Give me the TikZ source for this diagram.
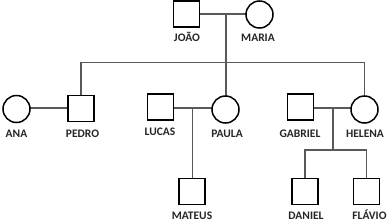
\documentclass[tikz,border=0pt]{standalone}
\usepackage{fontspec}
\setmainfont{Carlito}
\begin{document}
\begin{tikzpicture}[x=1pt,y=-1pt,
  male/.style={draw=black,line width=1.5pt,minimum size=26pt,inner sep=0pt,fill=white},
  female/.style={circle,draw=black,line width=1.5pt,minimum size=27pt,inner sep=0pt,fill=white},
  lbl/.style={font=\fontsize{11.5}{12}\selectfont\bfseries,text=black!85,inner sep=0pt,anchor=base},
  conn/.style={draw=black!65,line width=1.2pt}]
\useasboundingbox[fill=white] (0,0) rectangle (388,223);
% coordinates for connector junctions
\coordinate (jm) at (226,14);
\coordinate (sib) at (226,62.5);
\coordinate (lp) at (192.5,108);
\coordinate (gh) at (333,108);
\coordinate (gsib) at (333,150);
% connectors (drawn first, under shapes)
\path[conn] (186.5,14) -- (259.5,14);
\path[conn] (jm) -- (226,96);
\path[conn] (81,96) -- (81,62.5) -- (364.5,62.5) -- (364.5,96);
\path[conn] (16.5,108) -- (81,108);
\path[conn] (160.5,108) -- (225.5,108);
\path[conn] (lp) -- (192.5,178);
\path[conn] (300.5,108) -- (364.5,108);
\path[conn] (gh) -- (gsib);
\path[conn] (305,178) -- (305,150) -- (366.5,150) -- (366.5,178);
% nodes
\node[male] (joao) at (186.5,14) {};
\node[female] (maria) at (259.5,14.5) {};
\node[female] (ana) at (16.5,109) {};
\node[male] (pedro) at (81,108.5) {};
\node[male] (lucas) at (160.5,107) {};
\node[female] (paula) at (225.5,109.5) {};
\node[male] (gabriel) at (300.5,107) {};
\node[female] (helena) at (364.5,109.5) {};
\node[male] (mateus) at (192,191.5) {};
\node[male] (daniel) at (305,191.5) {};
\node[male] (flavio) at (366.5,191.5) {};
% labels
\node[lbl] (ljoao) at (187,41.5) {JOÃO};
\node[lbl] (lmaria) at (258,41.5) {MARIA};
\node[lbl] (lana) at (16.5,137) {ANA};
\node[lbl] (lpedro) at (82.5,137) {PEDRO};
\node[lbl] (llucas) at (160,135.5) {LUCAS};
\node[lbl] (lpaula) at (227,137) {PAULA};
\node[lbl] (lgabriel) at (300,137) {GABRIEL};
\node[lbl] (lhelena) at (365,137) {HELENA};
\node[lbl] (lmateus) at (192,219.5) {MATEUS};
\node[lbl] (ldaniel) at (306,219.5) {DANIEL};
\node[lbl] (lflavio) at (369.5,219.5) {FLÁVIO};
\end{tikzpicture}
\end{document}
